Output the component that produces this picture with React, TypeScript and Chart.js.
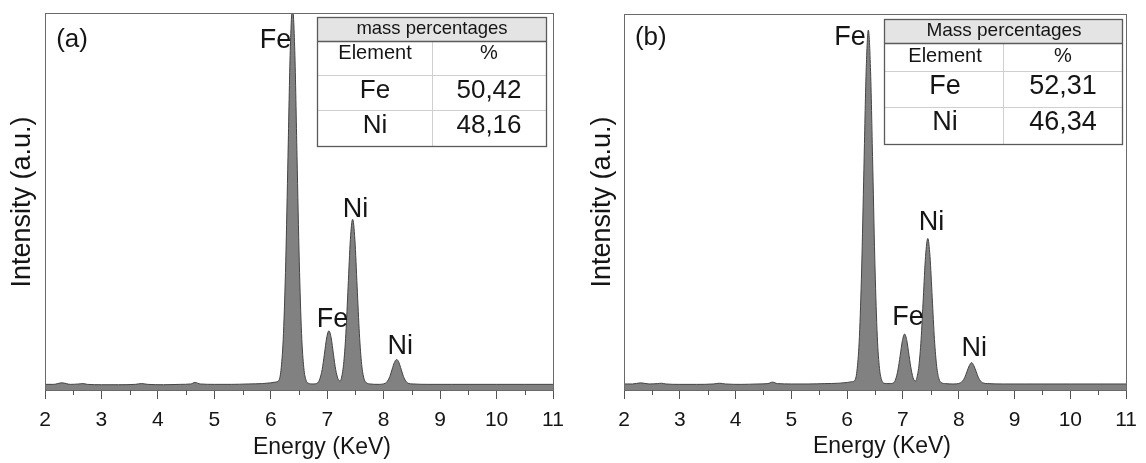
import React, { useEffect, useRef } from "react";
import { Chart, registerables } from "chart.js";

Chart.register(...registerables);

// ---------- data ----------
const energyA = [
  2.0, 2.15, 2.3, 2.45, 2.6, 2.67, 2.75, 3.0, 3.3, 3.6, 3.71, 3.82, 4.1, 4.4, 4.58, 4.66, 4.75, 5.0, 5.3, 5.6,
  5.85, 6.0, 6.08, 6.145, 6.185, 6.225, 6.265, 6.305, 6.345, 6.385, 6.425, 6.465, 6.505, 6.545, 6.585, 6.625,
  6.665, 6.75, 6.83, 6.87, 6.91, 6.95, 6.99, 7.03, 7.07, 7.11, 7.15, 7.19, 7.23, 7.25, 7.29, 7.33, 7.37, 7.41,
  7.45, 7.49, 7.53, 7.57, 7.61, 7.65, 7.69, 7.76, 7.9, 8.03, 8.07, 8.11, 8.15, 8.19, 8.23, 8.27, 8.31, 8.35,
  8.39, 8.43, 8.52, 8.8, 9.2, 9.6, 10.0, 10.5, 11.0,
];
const intensityA = [
  1.5, 1.5, 1.9, 1.5, 1.6, 1.7, 1.5, 1.4, 1.4, 1.5, 1.7, 1.5, 1.4, 1.5, 1.6, 2.0, 1.6, 1.5, 1.5, 1.6,
  1.7, 1.9, 2.1, 2.6, 5.9, 15, 34, 62, 90, 101.5, 90, 62, 34, 15, 5.9, 2.6,
  1.8, 1.6, 1.9, 3.0, 5.4, 9.5, 13.8, 15.7, 13.8, 9.5, 5.4, 3.0, 2.4, 3.1, 6.8, 14.9, 27.4, 39.9,
  45.3, 39.9, 27.4, 14.9, 6.8, 3.1, 2.0, 1.6, 1.5, 1.8, 2.4, 3.6, 5.5, 7.3, 8.1, 7.3, 5.5, 3.6,
  2.4, 1.8, 1.6, 1.5, 1.5, 1.5, 1.5, 1.5, 1.5,
];

const energyB = [
  2.0, 2.15, 2.3, 2.45, 2.6, 2.67, 2.75, 3.0, 3.3, 3.6, 3.71, 3.82, 4.1, 4.4, 4.58, 4.66, 4.75, 5.0, 5.3, 5.6,
  5.85, 6.0, 6.08, 6.14, 6.18, 6.22, 6.26, 6.3, 6.34, 6.38, 6.42, 6.46, 6.5, 6.54, 6.58, 6.62,
  6.66, 6.75, 6.83, 6.87, 6.91, 6.95, 6.99, 7.03, 7.07, 7.11, 7.15, 7.19, 7.23, 7.245, 7.285, 7.325, 7.365, 7.405,
  7.445, 7.485, 7.525, 7.565, 7.605, 7.645, 7.685, 7.76, 7.9, 8.03, 8.07, 8.11, 8.15, 8.19, 8.23, 8.27, 8.31, 8.35,
  8.39, 8.43, 8.52, 8.8, 9.2, 9.6, 10.0, 10.5, 11.0,
];
const intensityB = [
  1.6, 1.6, 1.9, 1.6, 1.7, 1.8, 1.6, 1.5, 1.5, 1.6, 1.8, 1.6, 1.5, 1.6, 1.7, 2.1, 1.7, 1.6, 1.6, 1.7,
  1.8, 2.0, 2.2, 2.6, 5.7, 14.3, 32.2, 58.7, 84.6, 95.7, 84.6, 58.7, 32.2, 14.3, 5.7, 2.6,
  1.8, 1.7, 1.9, 2.9, 5.3, 9.1, 13.1, 14.9, 13.1, 9.1, 5.3, 2.9, 2.4, 3.0, 6.3, 13.4, 24.5, 35.5,
  40.3, 35.5, 24.5, 13.4, 6.3, 3.0, 2.0, 1.7, 1.6, 1.9, 2.4, 3.4, 5.0, 6.5, 7.3, 6.5, 5.0, 3.4,
  2.4, 1.9, 1.7, 1.6, 1.6, 1.6, 1.6, 1.6, 1.6,
];

const xMin = 2;
const xMax = 11;
const minorTicks = [2.5, 3.5, 4.5, 5.5, 6.5, 7.5, 8.5, 9.5, 10.5];

const peakLabels = ["Fe", "Ni", "Fe", "Ni"];
const peakLabelEnergyA = [6.084, 7.501, 7.094, 8.295];
const peakLabelIntensityA = [92.8, 47.8, 18.6, 11.5];
const peakLabelEnergyB = [6.05, 7.51, 7.09, 8.28];
const peakLabelIntensityB = [93.8, 44.6, 19.2, 10.9];

const panelTagA = "(a)";
const panelTagB = "(b)";
const tagEnergy = 2.48;
const tagIntensityA = 92.8;
const tagIntensityB = 93.6;

const xTitle = "Energy (KeV)";
const yTitle = "Intensity (a.u.)";

const tableHeaders = ["Element", "%"];
const tableElements = ["Fe", "Ni"];
const tableTitleA = "mass percentages";
const tablePercentA = ["50,42", "48,16"];
const tableTitleB = "Mass percentages";
const tablePercentB = ["52,31", "46,34"];

// ---------- styling ----------
const FONT = '"Liberation Sans", Arial, Helvetica, sans-serif';
const TEXT = "#151515";

type TableGeom = { x0: number; x1: number; xm: number; rows: number[]; textY: number[]; col1X: number; col2X: number; titleX: number };

type PanelCfg = {
  energy: number[];
  intensity: number[];
  labelE: number[];
  labelI: number[];
  tag: string;
  tagI: number;
  tableTitle: string;
  percents: string[];
  padding: { left: number; right: number; top: number; bottom: number };
  xTitleX: number;
  xTitleY: number;
  yTitleX: number;
  yTitleY: number;
  table: TableGeom;
  cellFont: number;
  headFont: number;
};

function makePlugin(cfg: PanelCfg) {
  return {
    id: "decor",
    afterDraw(chart: any) {
      const { ctx, chartArea, scales } = chart;
      const { left, right, top, bottom } = chartArea;
      const xs = scales.x;
      const ys = scales.y;
      ctx.save();
      // frame
      ctx.strokeStyle = "#6a6a6a";
      ctx.lineWidth = 1;
      ctx.strokeRect(Math.round(left) + 0.5, Math.round(top) + 0.5, Math.round(right - left), Math.round(bottom - top));
      // minor ticks
      ctx.strokeStyle = "#555";
      ctx.beginPath();
      for (const v of minorTicks) {
        const px = Math.round(xs.getPixelForValue(v)) + 0.5;
        ctx.moveTo(px, bottom);
        ctx.lineTo(px, bottom + 5);
      }
      ctx.stroke();

      ctx.fillStyle = TEXT;
      ctx.textAlign = "center";
      ctx.textBaseline = "middle";
      // x title
      ctx.font = `23px ${FONT}`;
      ctx.fillText(xTitle, cfg.xTitleX, cfg.xTitleY);
      // y title
      ctx.save();
      ctx.translate(cfg.yTitleX, cfg.yTitleY);
      ctx.rotate(-Math.PI / 2);
      ctx.font = `27px ${FONT}`;
      ctx.fillText(yTitle, 0, 0);
      ctx.restore();
      // peak labels
      ctx.font = `27px ${FONT}`;
      peakLabels.forEach((t, i) => {
        ctx.fillText(t, xs.getPixelForValue(cfg.labelE[i]), ys.getPixelForValue(cfg.labelI[i]));
      });
      ctx.font = `26px ${FONT}`;
      ctx.fillText(cfg.tag, xs.getPixelForValue(tagEnergy), ys.getPixelForValue(cfg.tagI));

      // table
      const tb = cfg.table;
      const r = tb.rows;
      ctx.fillStyle = "#ffffff";
      ctx.fillRect(tb.x0, r[0], tb.x1 - tb.x0, r[4] - r[0]);
      ctx.fillStyle = "#e4e4e4";
      ctx.fillRect(tb.x0, r[0], tb.x1 - tb.x0, r[1] - r[0]);
      ctx.strokeStyle = "#cfcfcf";
      ctx.lineWidth = 1;
      ctx.beginPath();
      ctx.moveTo(tb.x0, r[2] + 0.5);
      ctx.lineTo(tb.x1, r[2] + 0.5);
      ctx.moveTo(tb.x0, r[3] + 0.5);
      ctx.lineTo(tb.x1, r[3] + 0.5);
      ctx.moveTo(tb.xm + 0.5, r[1]);
      ctx.lineTo(tb.xm + 0.5, r[4]);
      ctx.stroke();
      ctx.strokeStyle = "#5a5a5a";
      ctx.lineWidth = 1.3;
      ctx.beginPath();
      ctx.moveTo(tb.x0, r[1] + 0.5);
      ctx.lineTo(tb.x1, r[1] + 0.5);
      ctx.stroke();
      ctx.strokeRect(tb.x0 + 0.5, r[0] + 0.5, tb.x1 - tb.x0, r[4] - r[0]);

      ctx.fillStyle = TEXT;
      ctx.font = `${cfg.headFont}px ${FONT}`;
      ctx.fillText(cfg.tableTitle, tb.titleX, tb.textY[0]);
      ctx.font = `20px ${FONT}`;
      ctx.fillText(tableHeaders[0], tb.col1X, tb.textY[1]);
      ctx.fillText(tableHeaders[1], tb.col2X, tb.textY[1]);
      ctx.font = `${cfg.cellFont}px ${FONT}`;
      tableElements.forEach((el, i) => {
        ctx.fillText(el, tb.col1X, tb.textY[2 + i]);
        ctx.fillText(cfg.percents[i], tb.col2X, tb.textY[2 + i]);
      });
      ctx.restore();
    },
  };
}

function Panel({ cfg }: { cfg: PanelCfg }) {
  const ref = useRef<HTMLCanvasElement | null>(null);
  useEffect(() => {
    if (!ref.current) return;
    const points = cfg.energy.map((e, i) => ({ x: e, y: cfg.intensity[i] }));
    const chart = new Chart(ref.current, {
      type: "line",
      data: {
        datasets: [
          {
            data: points,
            borderColor: "#444444",
            borderWidth: 1,
            backgroundColor: "#818181",
            fill: "origin",
            pointRadius: 0,
            cubicInterpolationMode: "monotone",
          },
        ],
      },
      options: {
        animation: false,
        responsive: false,
        devicePixelRatio: 1,
        layout: { padding: cfg.padding },
        plugins: { legend: { display: false }, tooltip: { enabled: false } },
        scales: {
          x: {
            type: "linear",
            min: xMin,
            max: xMax,
            ticks: {
              stepSize: 1,
              padding: 9,
              color: TEXT,
              maxRotation: 0,
              autoSkip: false,
              font: { family: FONT, size: 21 },
            },
            grid: { drawOnChartArea: false, tickLength: 9, color: "#555", lineWidth: 1 },
            border: { display: false },
          },
          y: { display: false, min: 0, max: 100 },
        },
      },
      plugins: [makePlugin(cfg)],
    } as any);
    return () => chart.destroy();
  }, [cfg]);
  return <canvas ref={ref} width={573} height={463} style={{ display: "block" }} />;
}

const cfgA: PanelCfg = {
  energy: energyA,
  intensity: intensityA,
  labelE: peakLabelEnergyA,
  labelI: peakLabelIntensityA,
  tag: panelTagA,
  tagI: tagIntensityA,
  tableTitle: tableTitleA,
  percents: tablePercentA,
  padding: { left: 45, right: 20, top: 13, bottom: 20.8 },
  xTitleX: 322,
  xTitleY: 448,
  yTitleX: 23,
  yTitleY: 202,
  table: { x0: 317, x1: 546, xm: 432, rows: [17, 41, 75, 110, 146], textY: [29, 53, 91, 126], col1X: 375, col2X: 489, titleX: 432 },
  cellFont: 26,
  headFont: 18.5,
};

const cfgB: PanelCfg = {
  energy: energyB,
  intensity: intensityB,
  labelE: peakLabelEnergyB,
  labelI: peakLabelIntensityB,
  tag: panelTagB,
  tagI: tagIntensityB,
  tableTitle: tableTitleB,
  percents: tablePercentB,
  padding: { left: 51, right: 15, top: 14, bottom: 20.8 },
  xTitleX: 309,
  xTitleY: 447,
  yTitleX: 30,
  yTitleY: 202,
  table: { x0: 311, x1: 549, xm: 430, rows: [19, 43, 71, 107, 144], textY: [31, 56, 87, 123], col1X: 372, col2X: 490, titleX: 431 },
  cellFont: 27,
  headFont: 19,
};

export default function App() {
  return (
    <div style={{ position: "fixed", left: 0, top: 0, width: 1146, height: 463, background: "#fff", display: "flex" }}>
      <Panel cfg={cfgA} />
      <Panel cfg={cfgB} />
    </div>
  );
}
